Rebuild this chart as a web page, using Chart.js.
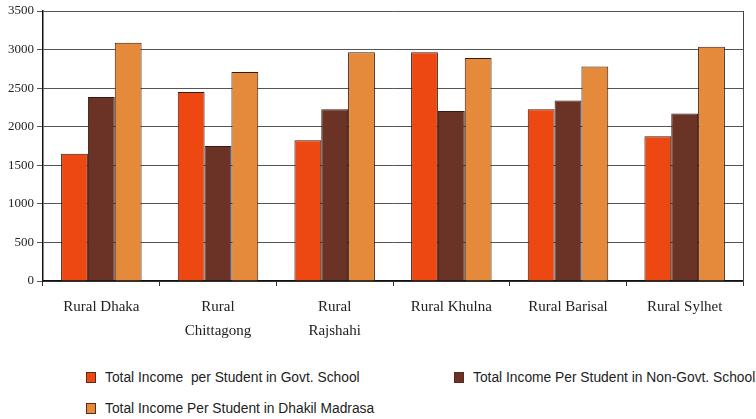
<!DOCTYPE html>
<html>
<head>
<meta charset="utf-8">
<script src="https://cdn.jsdelivr.net/npm/chart.js@4/dist/chart.umd.min.js"></script>
<style>
  html, body { margin:0; padding:0; background:#fff; width:756px; height:419px; overflow:hidden; }
  #wrap { position:relative; width:756px; height:419px; overflow:hidden; }
  #c { position:absolute; left:0; top:0; }
  .leg { position:absolute; font-family:"Liberation Sans", Arial, sans-serif; font-size:13.8px; color:#222; white-space:pre; }
  .leg span.box { display:inline-block; width:10px; height:11px; vertical-align:-1px; margin-right:9px; border:1px solid #5a2a1a; box-sizing:border-box; }
</style>
</head>
<body>
<div id="wrap">
  <canvas id="c" width="756" height="355"></canvas>
  <div id="legend"></div>
</div>
<script>
const categories = [["Rural Dhaka"], ["Rural", "Chittagong"], ["Rural", "Rajshahi"], ["Rural Khulna"], ["Rural Barisal"], ["Rural Sylhet"]];
const govtSchool = [1650, 2450, 1825, 2965, 2225, 1875];
const nonGovtSchool = [2385, 1750, 2225, 2205, 2340, 2170];
const dhakilMadrasa = [3090, 2710, 2965, 2890, 2780, 3035];
const seriesLabels = ["Total Income  per Student in Govt. School", "Total Income Per Student in Non-Govt. School", "Total Income Per Student in Dhakil Madrasa"];
const yTicks = [0, 500, 1000, 1500, 2000, 2500, 3000, 3500];
const colors = ["#EE4812", "#6B3226", "#E48A3A"];

const frame = {
  id: 'frame',
  afterDraw(chart) {
    const a = chart.chartArea, ctx = chart.ctx;
    ctx.save();
    ctx.strokeStyle = '#444';
    ctx.lineWidth = 1;
    ctx.beginPath();
    ctx.moveTo(Math.round(a.right) + 0.5, a.top);
    ctx.lineTo(Math.round(a.right) + 0.5, a.bottom);
    ctx.stroke();
    ctx.restore();
  }
};

new Chart(document.getElementById('c'), {
  type: 'bar',
  data: {
    labels: categories,
    datasets: [
      { label: seriesLabels[0], data: govtSchool, backgroundColor: colors[0] },
      { label: seriesLabels[1], data: nonGovtSchool, backgroundColor: colors[1] },
      { label: seriesLabels[2], data: dhakilMadrasa, backgroundColor: colors[2] }
    ].map(d => Object.assign(d, { borderColor: '#3a1a10', borderWidth: 1, borderSkipped: 'bottom', categoryPercentage: 0.69, barPercentage: 1.0 }))
  },
  options: {
    responsive: false,
    animation: false,
    layout: { padding: { left: 0, top: 11, right: 13, bottom: 0 } },
    plugins: { legend: { display: false }, tooltip: { enabled: false } },
    scales: {
      x: {
        offset: true,
        grid: { display: true, offset: true, drawOnChartArea: false, drawTicks: true, tickLength: 5, color: '#333' },
        border: { display: true, color: '#111', width: 1.5 },
        ticks: { color: '#222', font: { family: '"Liberation Serif", "Times New Roman", serif', size: 15, lineHeight: 1.6 }, padding: 9, maxRotation: 0, autoSkip: false },
        afterFit(scale) { scale.height = 74; }
      },
      y: {
        min: 0, max: 3500,
        afterBuildTicks(scale) { scale.ticks = yTicks.map(v => ({ value: v })); },
        grid: { color: '#555', lineWidth: 1, tickLength: 6, drawTicks: true },
        border: { display: true, color: '#111', width: 1.5 },
        ticks: { color: '#222', padding: 3, font: { family: '"Liberation Serif", "Times New Roman", serif', size: 13 }, callback: v => String(v) },
        afterFit(scale) { scale.width = 43; }
      }
    }
  },
  plugins: [frame]
});

const legPos = [[86, 370], [454, 370], [86, 401]];
const legend = document.getElementById('legend');
seriesLabels.forEach((lab, i) => {
  const d = document.createElement('div');
  d.className = 'leg';
  d.style.left = legPos[i][0] + 'px';
  d.style.top = legPos[i][1] + 'px';
  const b = document.createElement('span');
  b.className = 'box';
  b.style.background = colors[i];
  d.appendChild(b);
  d.appendChild(document.createTextNode(lab));
  legend.appendChild(d);
});
</script>
</body>
</html>
